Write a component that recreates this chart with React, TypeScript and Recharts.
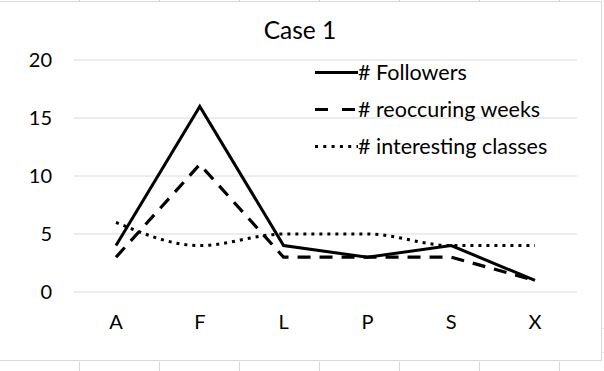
import React from 'react';
import { LineChart, Line, XAxis, YAxis, CartesianGrid, Legend } from 'recharts';

const categories = ['A', 'F', 'L', 'P', 'S', 'X'];
const followers = [4, 16, 4, 3, 4, 1];
const reoccuringWeeks = [3, 11, 3, 3, 3, 1];
const interestingClasses = [6, 4, 5, 5, 4, 4];
const yTicks = [0, 5, 10, 15, 20];

const chartData = categories.map((name, i) => ({
  name,
  followers: followers[i],
  weeks: reoccuringWeeks[i],
  classes: interestingClasses[i],
}));

const FONT = 'Lato, "Noto Sans", sans-serif';
const GRID = '#d9d9d9';

const legendItems = [
  { label: '# Followers', dash: undefined },
  { label: '# reoccuring weeks', dash: '13 14' },
  { label: '# interesting classes', dash: '3 5.3' },
];

function LegendBox() {
  return (
    <div style={{ fontFamily: FONT, fontSize: 21.5, color: '#000' }}>
      {legendItems.map((it) => (
        <div key={it.label} style={{ display: 'flex', alignItems: 'center', height: 37, lineHeight: '37px' }}>
          <svg width={43} height={37} style={{ display: 'block' }}>
            <line x1={0} y1={18.5} x2={43} y2={18.5} stroke="#000" strokeWidth={3} strokeDasharray={it.dash} />
          </svg>
          <span style={{ whiteSpace: 'nowrap' }}>{it.label}</span>
        </div>
      ))}
    </div>
  );
}

const sheetCols = [79, 159, 239, 319, 399, 479, 559];

export default function App() {
  return (
    <div style={{ position: 'absolute', left: 0, top: 0, width: 604, height: 371, background: '#fff', overflow: 'hidden' }}>
      {/* spreadsheet cells peeking around the chart */}
      {sheetCols.map((x) => (
        <div key={'b' + x} style={{ position: 'absolute', left: x, top: 362, width: 1, height: 9, background: '#d4d4d4' }} />
      ))}
      {sheetCols.map((x) => (
        <div key={'t' + x} style={{ position: 'absolute', left: x, top: 0, width: 1, height: 1, background: '#d4d4d4' }} />
      ))}
      <div style={{ position: 'absolute', left: 603, top: 328, width: 1, height: 1, background: '#d4d4d4' }} />
      <div style={{ position: 'absolute', left: 603, top: 352, width: 1, height: 1, background: '#d4d4d4' }} />

      {/* chart frame */}
      <div style={{ position: 'absolute', left: -1, top: 1, width: 603, height: 360, border: `1px solid ${GRID}`, boxSizing: 'border-box' }} />

      <div style={{ position: 'absolute', left: 0, top: 18, width: 600, textAlign: 'center', fontFamily: FONT, fontSize: 24.5, lineHeight: '24px', color: '#000' }}>
        Case 1
      </div>

      <div style={{ position: 'absolute', left: 0, top: 0 }}>
        <LineChart width={604} height={371} data={chartData} margin={{ top: 60, right: 27, bottom: 49, left: 0 }}>
          <CartesianGrid horizontal vertical={false} stroke={GRID} strokeWidth={1} />
          <XAxis
            dataKey="name"
            height={30}
            axisLine={false}
            tickLine={false}
            tickSize={0}
            tickMargin={23}
            padding={{ left: 42, right: 42 }}
            tick={{ fill: '#000', fontSize: 20, fontFamily: FONT }}
          />
          <YAxis
            width={74}
            domain={[0, 20]}
            ticks={yTicks}
            axisLine={false}
            tickLine={false}
            tickSize={0}
            tickMargin={22}
            tick={{ fill: '#000', fontSize: 20, fontFamily: FONT }}
          />
          <Legend
            layout="vertical"
            align="center"
            verticalAlign="middle"
            content={() => <LegendBox />}
            wrapperStyle={{ position: 'absolute', left: 315, top: 54, width: 285, height: 115 }}
          />
          <Line dataKey="followers" name="# Followers" stroke="#000" strokeWidth={3} dot={false} isAnimationActive={false} strokeLinejoin="miter" />
          <Line dataKey="weeks" name="# reoccuring weeks" stroke="#000" strokeWidth={3.2} strokeDasharray="13 9" dot={false} isAnimationActive={false} />
          <Line type="monotone" dataKey="classes" name="# interesting classes" stroke="#000" strokeWidth={3} strokeDasharray="3 5" dot={false} isAnimationActive={false} />
        </LineChart>
      </div>
    </div>
  );
}
